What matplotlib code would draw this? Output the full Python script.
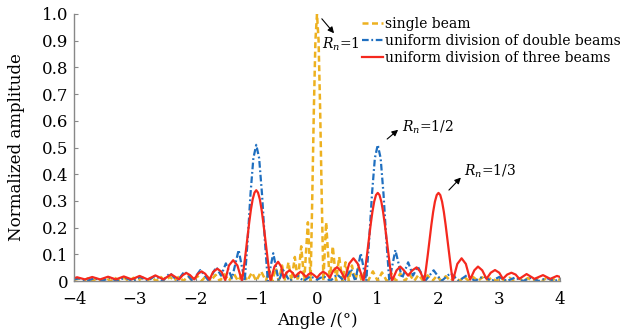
import matplotlib
matplotlib.use("Agg")
import matplotlib.pyplot as plt

# angle (deg) / normalized amplitude
single_x = [-4.0, -3.92, -3.85, -3.77, -3.7, -3.62, -3.55, -3.47, -3.4, -3.32, -3.25, -3.17, -3.1, -3.02,
            -2.95, -2.87, -2.8, -2.72, -2.65, -2.57, -2.5, -2.42, -2.35, -2.27, -2.2, -2.12, -2.05, -1.97,
            -1.9, -1.82, -1.75, -1.67, -1.6, -1.52, -1.45, -1.37, -1.3, -1.22, -1.15, -1.07, -1.0, -0.92,
            -0.84, -0.79, -0.735, -0.68, -0.63, -0.575, -0.525, -0.47, -0.42, -0.365, -0.315, -0.26, -0.21,
            -0.15, -0.105, -0.079, -0.052, -0.026, 0.0,
            0.026, 0.052, 0.079, 0.105, 0.15, 0.21, 0.26, 0.315, 0.365, 0.42, 0.47, 0.525, 0.575, 0.63,
            0.68, 0.735, 0.79, 0.84, 0.92, 1.0, 1.07, 1.15, 1.22, 1.3, 1.37, 1.45, 1.52, 1.6, 1.67, 1.75,
            1.82, 1.9, 1.97, 2.05, 2.12, 2.2, 2.27, 2.35, 2.42, 2.5, 2.57, 2.65, 2.72, 2.8, 2.87, 2.95,
            3.02, 3.1, 3.17, 3.25, 3.32, 3.4, 3.47, 3.55, 3.62, 3.7, 3.77, 3.85, 3.92, 4.0]
single_y = [0.004, 0.009, 0, 0.01, 0, 0.01, 0, 0.011, 0, 0.011, 0, 0.012, 0, 0.012,
            0, 0.013, 0, 0.014, 0, 0.015, 0, 0.016, 0, 0.017, 0, 0.018, 0, 0.019,
            0, 0.021, 0, 0.023, 0, 0.025, 0, 0.028, 0, 0.03, 0, 0.032, 0, 0.036,
            0, 0.042, 0, 0.049, 0, 0.058, 0, 0.07, 0, 0.09, 0, 0.13, 0,
            0.22, 0, 0.30, 0.64, 0.90, 1.0,
            0.90, 0.64, 0.30, 0, 0.22, 0, 0.13, 0, 0.09, 0, 0.07, 0, 0.058, 0,
            0.049, 0, 0.042, 0, 0.036, 0, 0.032, 0, 0.03, 0, 0.028, 0, 0.025, 0, 0.023, 0,
            0.021, 0, 0.019, 0, 0.018, 0, 0.017, 0, 0.016, 0, 0.015, 0, 0.014, 0, 0.013, 0,
            0.012, 0, 0.012, 0, 0.011, 0, 0.011, 0, 0.01, 0, 0.01, 0, 0.009, 0.004]

double_x = [-4.0, -3.92, -3.79, -3.66, -3.54, -3.41, -3.29, -3.16, -3.04, -2.91, -2.79, -2.66, -2.54,
            -2.42, -2.3, -2.18, -2.05, -1.92, -1.78, -1.66, -1.58, -1.5, -1.4, -1.29, -1.19, -1.1425,
            -1.095, -1.0475, -1.0, -0.9525, -0.905, -0.8575, -0.81, -0.72, -0.63, -0.56, -0.45, -0.33,
            -0.22, -0.11, 0.0,
            0.11, 0.22, 0.33, 0.45, 0.56, 0.63, 0.72, 0.81, 0.8575, 0.905, 0.9525, 1.0, 1.0475, 1.095,
            1.1425, 1.19, 1.29, 1.4, 1.5, 1.58, 1.66, 1.78, 1.92, 2.05, 2.2, 2.33, 2.47, 2.6, 2.74, 2.87,
            3.0, 3.13, 3.26, 3.39, 3.52, 3.65, 3.78, 3.91, 4.0]
double_y = [0.006, 0.01, 0, 0.011, 0, 0.012, 0, 0.013, 0, 0.015, 0, 0.02, 0,
            0.03, 0, 0.036, 0, 0.041, 0, 0.052, 0.02, 0.066, 0.01, 0.116, 0, 0.15,
            0.325, 0.46, 0.51, 0.46, 0.325, 0.15, 0, 0.104, 0, 0.041, 0, 0.022,
            0, 0.018, 0.005,
            0.018, 0, 0.025, 0, 0.045, 0, 0.104, 0, 0.15, 0.325, 0.46, 0.51, 0.46, 0.325,
            0.15, 0, 0.116, 0.01, 0.07, 0.02, 0.054, 0, 0.04, 0, 0.03, 0, 0.022, 0, 0.018, 0,
            0.015, 0, 0.013, 0, 0.012, 0, 0.011, 0, 0.008]

three_x = [-4.0, -3.95, -3.82, -3.7, -3.57, -3.44, -3.31, -3.18, -3.05, -2.92, -2.79, -2.66, -2.53,
           -2.4, -2.27, -2.21, -2.15, -2.09, -2.02, -1.96, -1.9, -1.84, -1.77, -1.71, -1.64, -1.57,
           -1.51, -1.45, -1.38, -1.31, -1.235, -1.206, -1.176, -1.147, -1.1175, -1.088, -1.059, -1.029,
           -1.0, -0.971, -0.941, -0.912, -0.8825, -0.853, -0.824, -0.794, -0.765, -0.7, -0.64, -0.59,
           -0.55, -0.5, -0.45, -0.4, -0.36, -0.31, -0.27, -0.23, -0.18, -0.14, -0.1, -0.05, 0.0,
           0.05, 0.1, 0.155, 0.21, 0.27, 0.33, 0.39, 0.46, 0.53, 0.6, 0.67, 0.765, 0.794, 0.824,
           0.853, 0.8825, 0.912, 0.941, 0.971, 1.0, 1.029, 1.059, 1.088, 1.1175, 1.147, 1.176, 1.206,
           1.235, 1.31, 1.37, 1.43, 1.5, 1.57, 1.64, 1.7, 1.765, 1.794, 1.824, 1.853, 1.8825, 1.912,
           1.941, 1.971, 2.0, 2.029, 2.059, 2.088, 2.1175, 2.147, 2.176, 2.206, 2.235, 2.31, 2.38,
           2.45, 2.52, 2.59, 2.65, 2.72, 2.79, 2.86, 2.93, 3.0, 3.06, 3.13, 3.2, 3.27, 3.33, 3.45,
           3.58, 3.72, 3.84, 3.95, 4.0]
three_y = [0.01, 0.014, 0.006, 0.015, 0.006, 0.016, 0.006, 0.017, 0.006, 0.019, 0.006, 0.021, 0.006,
           0.025, 0.006, 0.022, 0.03, 0.022, 0.006, 0.027, 0.036, 0.027, 0.005, 0.034, 0.046, 0.034,
           0.003, 0.058, 0.078, 0.058, 0.0, 0.047, 0.102, 0.16, 0.216, 0.267, 0.306, 0.331,
           0.34, 0.331, 0.306, 0.267, 0.216, 0.16, 0.102, 0.047, 0.0, 0.054, 0.072, 0.054,
           0.012, 0.032, 0.04, 0.03, 0.015, 0.028, 0.035, 0.027, 0.015, 0.025, 0.03, 0.022, 0.012,
           0.026, 0.035, 0.027, 0.012, 0.04, 0.052, 0.038, 0.008, 0.065, 0.085, 0.065, 0.0, 0.046, 0.099,
           0.155, 0.21, 0.259, 0.297, 0.322, 0.33, 0.322, 0.297, 0.259, 0.21, 0.155, 0.099, 0.046,
           0.0, 0.04, 0.054, 0.04, 0.02, 0.04, 0.051, 0.035, 0.0, 0.046, 0.099, 0.155, 0.21, 0.259,
           0.297, 0.322, 0.33, 0.322, 0.297, 0.259, 0.21, 0.155, 0.099, 0.046, 0.0, 0.064, 0.085,
           0.064, 0.005, 0.04, 0.054, 0.04, 0.008, 0.031, 0.041, 0.031, 0.008, 0.024, 0.031, 0.024, 0.008, 0.026,
           0.008, 0.022, 0.008, 0.019, 0.015]

x_ticks = [-4, -3, -2, -1, 0, 1, 2, 3, 4]
y_ticks = [0, 0.1, 0.2, 0.3, 0.4, 0.5, 0.6, 0.7, 0.8, 0.9, 1.0]
y_tick_labels = ["0", "0.1", "0.2", "0.3", "0.4", "0.5", "0.6", "0.7", "0.8", "0.9", "1.0"]

plt.rcParams['font.family'] = 'DejaVu Serif'
plt.rcParams['mathtext.fontset'] = 'dejavuserif'

fig = plt.figure(figsize=(6.29, 3.34), dpi=100)
ax = fig.add_axes([74 / 629, 53 / 334, 486 / 629, 267 / 334])

ax.plot(single_x, single_y, color='#EDB120', lw=1.8, dashes=(2.4, 1.4), label='single beam')
ax.plot(double_x, double_y, color='#1F6FC0', lw=1.6, dashes=(3.0, 1.2, 0.8, 1.2),
        label='uniform division of double beams')
ax.plot(three_x, three_y, color='#F5281E', lw=1.6, label='uniform division of three beams')

ax.set_xlim(-4, 4)
ax.set_ylim(0, 1.0)
ax.set_xticks(x_ticks)
ax.set_yticks(y_ticks)
ax.set_yticklabels(y_tick_labels)
ax.tick_params(direction='in', length=3, width=0.8, color='#888888', labelsize=12)
ax.tick_params(axis='x', pad=7)
ax.tick_params(axis='y', pad=4)
for side in ['top', 'right']:
    ax.spines[side].set_visible(False)
for side in ['left', 'bottom']:
    ax.spines[side].set_color('#888888')
    ax.spines[side].set_linewidth(1.0)

ax.set_xlabel('Angle /(°)', fontsize=12, labelpad=3)
ax.set_ylabel('Normalized amplitude', fontsize=12, labelpad=12)

arrow = dict(arrowstyle='-|>', color='black', lw=0.8, mutation_scale=9)
ax.annotate('', xy=(0.31, 0.92), xytext=(0.05, 0.99), arrowprops=arrow)
ax.text(0.08, 0.885, r'$R_n$=1', fontsize=10, va='center', ha='left')
ax.annotate('', xy=(1.37, 0.573), xytext=(1.12, 0.525), arrowprops=arrow)
ax.text(1.40, 0.575, r'$R_n$=1/2', fontsize=10, va='center', ha='left')
ax.annotate('', xy=(2.40, 0.395), xytext=(2.14, 0.333), arrowprops=arrow)
ax.text(2.42, 0.41, r'$R_n$=1/3', fontsize=10, va='center', ha='left')

ax.legend(loc='upper left', bbox_to_anchor=(362 / 629, 1 - 17 / 334), bbox_transform=fig.transFigure,
          frameon=False, fontsize=10, handlelength=1.5, handletextpad=0.15, borderpad=0,
          borderaxespad=0, labelspacing=0.2)

fig.savefig('out.png', dpi=100)
